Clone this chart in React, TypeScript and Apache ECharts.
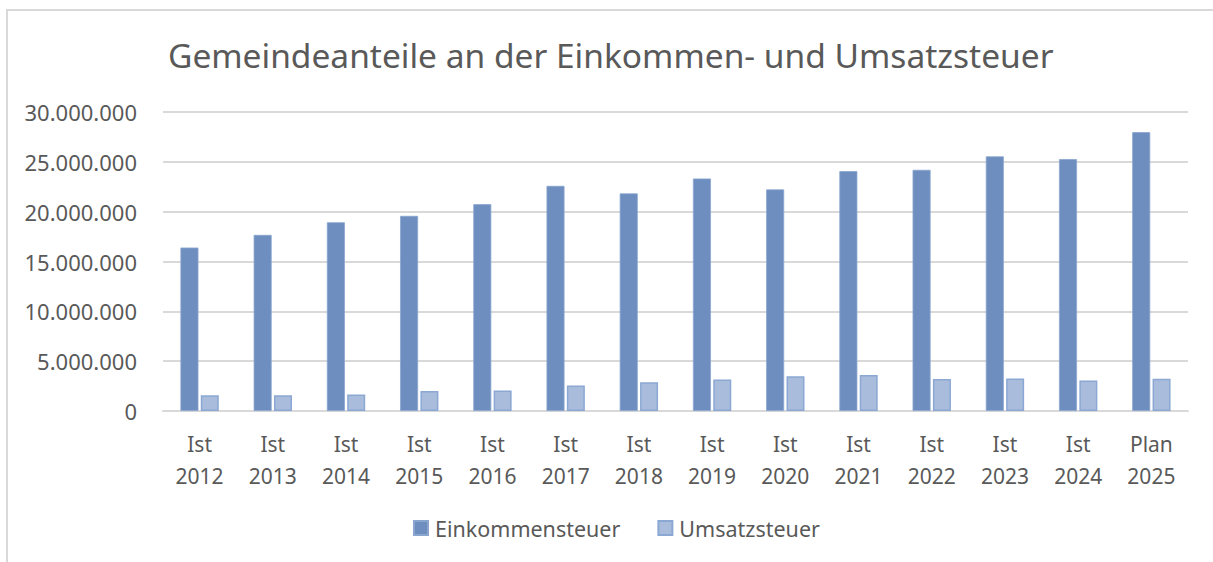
import React, { useEffect, useRef } from "react";
import * as echarts from "echarts";

const categories = [
  "Ist\n2012", "Ist\n2013", "Ist\n2014", "Ist\n2015", "Ist\n2016", "Ist\n2017", "Ist\n2018",
  "Ist\n2019", "Ist\n2020", "Ist\n2021", "Ist\n2022", "Ist\n2023", "Ist\n2024", "Plan\n2025",
];
const einkommensteuer = [
  16400000, 17670000, 18940000, 19580000, 20750000, 22590000, 21830000,
  23330000, 22230000, 24070000, 24200000, 25550000, 25280000, 27980000,
];
const umsatzsteuer = [
  1580000, 1580000, 1650000, 2000000, 2050000, 2550000, 2880000,
  3150000, 3480000, 3610000, 3200000, 3270000, 3070000, 3240000,
];
const title = "Gemeindeanteile an der Einkommen- und Umsatzsteuer";
const seriesNames = ["Einkommensteuer", "Umsatzsteuer"];

const FONT = "'Noto Sans', sans-serif";
const TXT = "#595959";

function fmt(v: number): string {
  return String(Math.round(v)).replace(/\B(?=(\d{3})+(?!\d))/g, ".");
}

export default function App() {
  const ref = useRef<HTMLDivElement>(null);
  useEffect(() => {
    if (!ref.current) return;
    const chart = echarts.init(ref.current, undefined, { renderer: "svg" });
    chart.setOption({
      animation: false,
      backgroundColor: "#ffffff",
      textStyle: { fontFamily: FONT },
      title: {
        text: title,
        left: 163,
        top: 33,
        textStyle: { fontFamily: FONT, fontSize: 33.5, fontWeight: "normal", color: TXT },
      },
      graphic: [
        {
          type: "polyline",
          shape: { points: [[7, 562], [7, 10], [1213, 10]] },
          style: { stroke: "#d9d9d9", lineWidth: 2, fill: "none" },
          silent: true,
        },
      ],
      legend: {
        data: seriesNames,
        bottom: 18,
        left: 408,
        itemWidth: 14,
        itemHeight: 14,
        itemGap: 37,
        icon: "rect",
        textStyle: { fontFamily: FONT, fontSize: 21.5, color: TXT, padding: [0, 0, 0, 2] },
      },
      grid: { left: 163, right: 25, top: 112, bottom: 151, containLabel: false },
      xAxis: {
        type: "category",
        data: categories,
        axisLine: { show: true, lineStyle: { color: "#d9d9d9", width: 2 } },
        axisTick: { show: false },
        axisLabel: {
          fontFamily: FONT,
          fontSize: 21,
          color: TXT,
          lineHeight: 32,
          margin: 17,
          interval: 0,
        },
      },
      yAxis: {
        type: "value",
        min: 0,
        max: 30000000,
        interval: 5000000,
        axisLine: { show: false },
        axisTick: { show: false },
        splitLine: { lineStyle: { color: "#d9d9d9", width: 2 } },
        axisLabel: {
          fontFamily: FONT,
          fontSize: 22,
          color: TXT,
          margin: 26,
          formatter: (v: number) => fmt(v),
        },
      },
      series: [
        {
          name: seriesNames[0],
          type: "bar",
          data: einkommensteuer,
          barWidth: 18,
          barGap: "13%",
          itemStyle: { color: "#6d8ebf", borderColor: "#8aa6cf", borderWidth: 0.8 },
        },
        {
          name: seriesNames[1],
          type: "bar",
          data: umsatzsteuer,
          barWidth: 18,
          itemStyle: { color: "#a9bcdc", borderColor: "#8ba8d4", borderWidth: 1.5 },
        },
      ],
    });
    return () => chart.dispose();
  }, []);
  return (
    <div
      ref={ref}
      style={{ position: "absolute", left: 0, top: 0, width: 1213, height: 562 }}
    />
  );
}
